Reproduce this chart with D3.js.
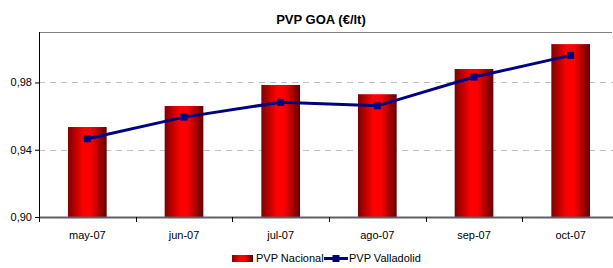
<!DOCTYPE html>
<html lang="es">
<head>
<meta charset="UTF-8">
<title>PVP GOA</title>
<script src="https://d3js.org/d3.v7.min.js"></script>
<style>
  body { margin: 0; background: #fff; }
  svg { display: block; font-family: "Liberation Sans", Arial, sans-serif; }
</style>
</head>
<body>
<svg width="613" height="268"></svg>
<script>
// datos
const months = ["may-07", "jun-07", "jul-07", "ago-07", "sep-07", "oct-07"];
const nacional = [0.9535, 0.966, 0.9785, 0.973, 0.988, 1.0028];
const valladolid = [0.9465, 0.9594, 0.9682, 0.9661, 0.9832, 0.9961];
const yTicks = [0.90, 0.94, 0.98];

const svg = d3.select("svg");
const margin = { top: 32, left: 39, bottom: 217, right: 619 };

const x = d3.scaleBand().domain(months).range([margin.left, margin.right]).paddingInner(0.6).paddingOuter(0.3);
const y = d3.scaleLinear().domain([0.90, 1.01]).range([margin.bottom, margin.top]);
const fmt = d => d3.format(".2f")(d).replace(".", ",");

// gradiente de las barras
const grad = svg.append("defs").append("linearGradient").attr("id", "barGrad");
grad.append("stop").attr("offset", "0%").attr("stop-color", "#800000");
grad.append("stop").attr("offset", "40%").attr("stop-color", "#ff0000");
grad.append("stop").attr("offset", "58%").attr("stop-color", "#ff0000");
grad.append("stop").attr("offset", "100%").attr("stop-color", "#600000");

// título
svg.append("text")
    .attr("x", 321).attr("y", 24)
    .attr("text-anchor", "middle")
    .style("font-size", "13px").style("font-weight", "bold")
    .text("PVP GOA (€/lt)");

// borde superior
svg.append("line")
    .attr("x1", margin.left).attr("x2", 612)
    .attr("y1", margin.top + 0.5).attr("y2", margin.top + 0.5)
    .attr("stroke", "#808080");

// líneas de cuadrícula
svg.append("g").selectAll("line")
    .data(yTicks.slice(1))
    .join("line")
    .attr("x1", margin.left).attr("x2", 613)
    .attr("y1", d => Math.round(y(d)) + 0.5).attr("y2", d => Math.round(y(d)) + 0.5)
    .attr("stroke", "#c0c0c0").attr("stroke-dasharray", "6,5");

// barras
svg.append("g").selectAll("rect")
    .data(nacional)
    .join("rect")
    .attr("x", (d, i) => x(months[i]))
    .attr("y", d => y(d))
    .attr("width", x.bandwidth())
    .attr("height", d => y(0.90) - y(d))
    .attr("fill", "url(#barGrad)");

// eje Y
const yAxis = svg.append("g")
    .attr("transform", `translate(${margin.left},0)`)
    .call(d3.axisLeft(y).tickValues(yTicks).tickFormat(fmt).tickSize(4).tickPadding(3));
yAxis.selectAll("path, line").attr("stroke", "#000");
yAxis.select(".domain").attr("d", `M0.5,${margin.top}V${margin.bottom}`);
yAxis.selectAll("text").style("font-size", "11px").style("fill", "#000");

// eje X
const xStep = x.step();
const xAxis = svg.append("g").attr("transform", `translate(0,${margin.bottom})`);
xAxis.append("line")
    .attr("x1", margin.left).attr("x2", 613)
    .attr("y1", 0.5).attr("y2", 0.5)
    .attr("stroke", "#606060").attr("stroke-width", 2);
xAxis.selectAll("line.tick")
    .data(months)
    .join("line")
    .attr("class", "tick")
    .attr("x1", (d, i) => Math.round(margin.left + i * xStep) + 0.5)
    .attr("x2", (d, i) => Math.round(margin.left + i * xStep) + 0.5)
    .attr("y1", 0).attr("y2", 5)
    .attr("stroke", "#000");
xAxis.selectAll("text")
    .data(months)
    .join("text")
    .attr("x", d => x(d) + x.bandwidth() / 2)
    .attr("y", 22)
    .attr("text-anchor", "middle")
    .style("font-size", "11px")
    .text(d => d);

// línea Valladolid
const line = d3.line()
    .x((d, i) => x(months[i]) + x.bandwidth() / 2)
    .y(d => y(d));
svg.append("path")
    .datum(valladolid)
    .attr("d", line)
    .attr("fill", "none")
    .attr("stroke", "#000080")
    .attr("stroke-width", 3);
svg.append("g").selectAll("rect")
    .data(valladolid)
    .join("rect")
    .attr("x", (d, i) => x(months[i]) + x.bandwidth() / 2 - 3.5)
    .attr("y", d => y(d) - 3.5)
    .attr("width", 7).attr("height", 7)
    .attr("fill", "#000080");

// leyenda
const legend = svg.append("g").attr("transform", "translate(0,262)");
legend.append("rect")
    .attr("x", 232).attr("y", -7).attr("width", 21).attr("height", 7)
    .attr("fill", "url(#barGrad)");
legend.append("text")
    .attr("x", 256).attr("y", 0)
    .style("font-size", "11px")
    .text("PVP Nacional");
legend.append("line")
    .attr("x1", 324).attr("x2", 348).attr("y1", -3.5).attr("y2", -3.5)
    .attr("stroke", "#000080").attr("stroke-width", 3);
legend.append("rect")
    .attr("x", 332.5).attr("y", -7).attr("width", 7).attr("height", 7)
    .attr("fill", "#000080");
legend.append("text")
    .attr("x", 349).attr("y", 0)
    .style("font-size", "11px")
    .text("PVP Valladolid");
</script>
</body>
</html>
